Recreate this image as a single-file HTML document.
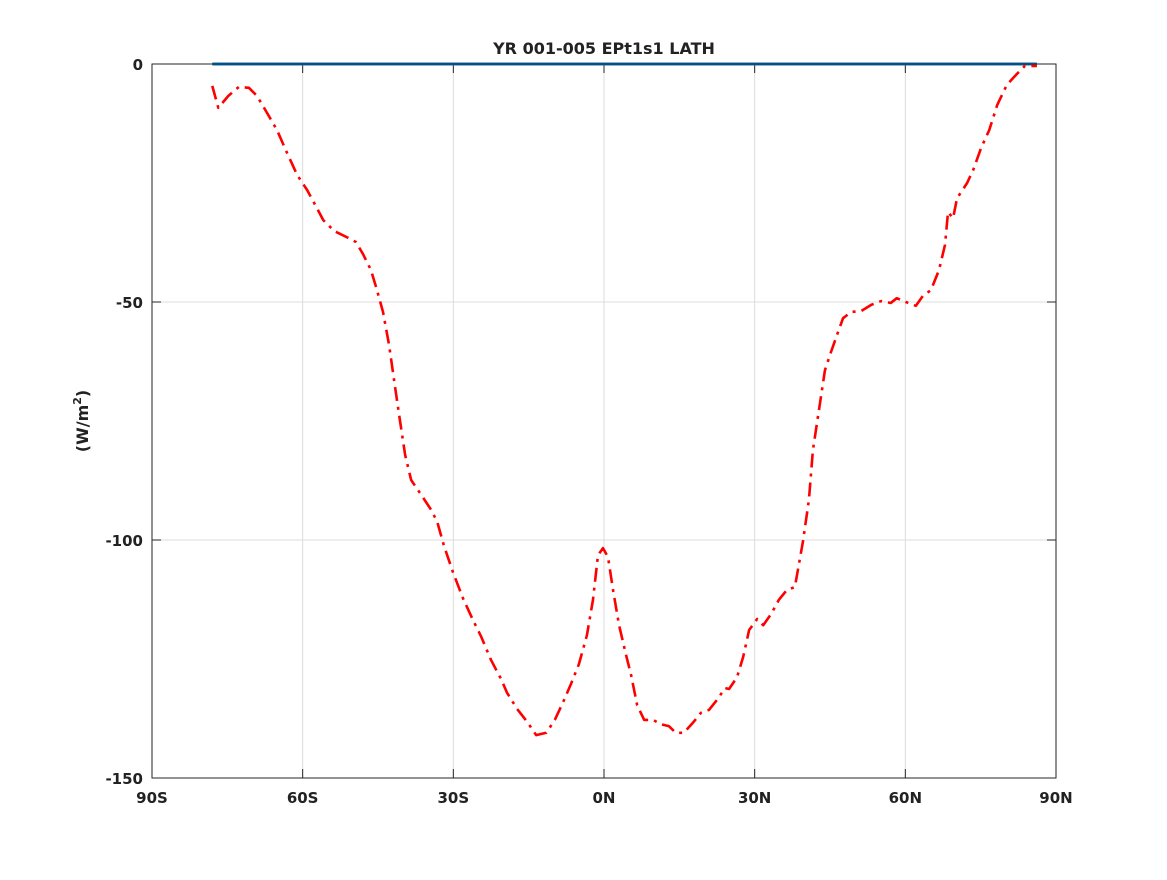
<!DOCTYPE html>
<html><head><meta charset="utf-8"><style>
body{margin:0;background:#fff}
svg text{font-family:"DejaVu Sans","Liberation Sans",sans-serif;font-weight:bold;fill:#222}
</style></head><body>
<svg id="chart" width="1167" height="875" xmlns="http://www.w3.org/2000/svg">
<rect width="1167" height="875" fill="#fff"/>
<g id="grid"></g>
<g id="ticks"></g>
<g id="series"></g>
<rect x="152" y="64" width="904" height="714" fill="none" stroke="#262626" stroke-width="1"/>
<text x="604" y="54" text-anchor="middle" font-size="16">YR 001-005 EPt1s1 LATH</text>
<text transform="translate(88,421) rotate(-90)" text-anchor="middle" font-size="16">(W/m<tspan dy="-7" font-size="11">2</tspan><tspan dy="7">)</tspan></text>
</svg>
<script>
const xTicks=[-90,-60,-30,0,30,60,90];
const xTickLabels=["90S","60S","30S","0N","30N","60N","90N"];
const yTicks=[0,-50,-100,-150];
const yTickLabels=["0","-50","-100","-150"];
const lats=[-78.0,-76.8,-74.8,-72.7,-70.7,-69.1,-67.3,-65.1,-63.1,-61.1,-59.1,-57.3,-55.9,-53.7,-50.8,-49.4,-48.0,-46.4,-45.2,-44.0,-42.8,-41.8,-40.8,-39.6,-38.4,-36.4,-34.4,-33.2,-31.9,-30.1,-28.1,-26.1,-24.5,-22.5,-20.5,-19.3,-17.3,-15.3,-13.5,-11.5,-9.8,-8.2,-6.6,-5.0,-3.4,-2.2,-1.2,-0.2,0.8,1.8,3.0,4.4,5.4,6.6,8.0,9.8,11.3,12.9,14.3,15.9,17.7,19.3,20.9,22.5,24.1,24.9,26.5,27.7,28.9,30.5,31.7,33.3,34.8,36.4,38.0,39.6,40.8,41.6,42.8,44.0,45.2,46.4,47.6,49.2,51.2,53.2,55.2,57.1,58.3,60.1,62.1,63.5,65.1,66.7,67.9,68.5,69.5,70.3,72.3,73.5,75.1,76.7,78.3,80.2,82.2,83.8,86.2];
const lathValues=[-4.6,-9.2,-6.7,-4.8,-5.0,-6.7,-9.9,-13.9,-18.7,-23.3,-26.5,-30.0,-32.8,-35.1,-36.6,-37.4,-39.9,-43.3,-47.5,-52.1,-59.0,-66.4,-73.7,-82.1,-87.4,-90.5,-93.7,-96.2,-101.1,-106.7,-112.2,-116.8,-120.2,-125.2,-129.2,-132.1,-135.5,-138.2,-141.0,-140.5,-137.8,-134.2,-130.3,-126.1,-120.0,-112.6,-103.2,-101.7,-103.6,-110.5,-117.9,-124.2,-128.4,-134.7,-137.8,-137.8,-138.7,-139.1,-140.5,-140.5,-138.4,-136.3,-135.7,-133.6,-131.1,-131.3,-128.8,-124.6,-118.9,-116.6,-117.9,-115.5,-112.6,-110.5,-109.9,-100.4,-91.6,-81.1,-72.7,-64.3,-60.5,-56.9,-53.4,-52.1,-51.9,-50.6,-49.8,-50.2,-49.2,-50.0,-50.8,-48.7,-47.5,-43.3,-38.0,-31.1,-32.4,-28.2,-25.0,-22.3,-17.6,-13.9,-8.6,-4.4,-2.1,-0.4,-0.4];
const refLats=[-78.0,86.2];
const refValues=[0,0];

const X0=152,X1=1056,Y0=64,Y1=778;
const xs=v=>X0+(v+90)/180*(X1-X0);
const ys=v=>Y0+(0-v)/150*(Y1-Y0);
const NS="http://www.w3.org/2000/svg";
function mk(tag,attrs,parent){const e=document.createElementNS(NS,tag);for(const k in attrs)e.setAttribute(k,attrs[k]);parent.appendChild(e);return e;}
const grid=document.getElementById('grid'),ticks=document.getElementById('ticks'),series=document.getElementById('series');
xTicks.forEach((t,i)=>{
  const x=xs(t);
  if(i>0&&i<xTicks.length-1){
    const g=mk('line',{x1:x,x2:x,y1:Y0,y2:Y1,stroke:'#dcdcdc','stroke-width':1},grid);
    
    
  }
  const a=mk('line',{x1:x,x2:x,y1:Y1,y2:Y1-9,stroke:'#262626'},ticks);
  
  
  const b=mk('line',{x1:x,x2:x,y1:Y0,y2:Y0+9,stroke:'#262626'},ticks);
  
  
  const l=mk('text',{x:x,y:803,'text-anchor':'middle','font-size':15},ticks);
  l.textContent=xTickLabels[i];
  
  
});
yTicks.forEach((t,i)=>{
  const y=ys(t);
  if(i>0&&i<yTicks.length-1){
    const g=mk('line',{x1:X0,x2:X1,y1:y,y2:y,stroke:'#dcdcdc','stroke-width':1},grid);
    
    
  }
  const a=mk('line',{x1:X0,x2:X0+9,y1:y,y2:y,stroke:'#262626'},ticks);
  
  
  const b=mk('line',{x1:X1,x2:X1-9,y1:y,y2:y,stroke:'#262626'},ticks);
  
  
  const l=mk('text',{x:143,y:y+6,'text-anchor':'end','font-size':15},ticks);
  l.textContent=yTickLabels[i];
  
  
});
const ref=mk('polyline',{points:refLats.map((v,i)=>xs(v)+','+ys(refValues[i])).join(' '),fill:'none',stroke:'#0072bd','stroke-width':3},series);


const ln=mk('polyline',{points:lats.map((v,i)=>xs(v)+','+ys(lathValues[i])).join(' '),fill:'none',stroke:'#ff0000','stroke-width':2.6,'stroke-dasharray':'14,6,3,6','stroke-linejoin':'round'},series);


</script>
</body></html>
